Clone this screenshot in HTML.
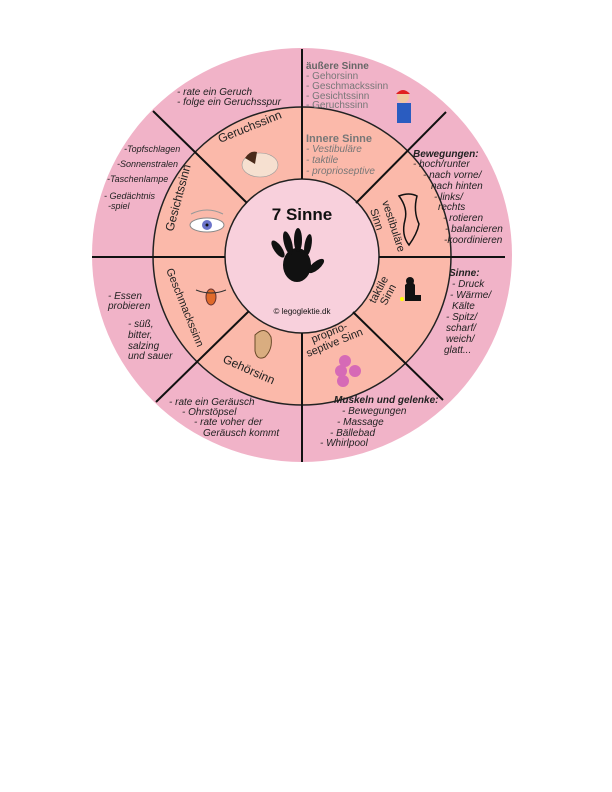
<!DOCTYPE html>
<html><head><meta charset="utf-8"><style>
html,body{margin:0;padding:0;background:#fff;}
svg{display:block;}
text{font-family:"Liberation Sans","DejaVu Sans",sans-serif;}
.i{font-style:italic;font-size:10px;fill:#222;}
.g{font-size:10px;fill:#777;}
</style></head><body>
<svg width="612" height="792" viewBox="0 0 612 792" xmlns="http://www.w3.org/2000/svg">
<ellipse cx="302" cy="255" rx="210" ry="207" fill="#f1b3c8"/>
<circle cx="302" cy="256" r="149" fill="#fbb9aa" stroke="#222" stroke-width="1.5"/>
<circle cx="302" cy="256" r="77" fill="#f8d0dc" stroke="#222" stroke-width="1.5"/>
<g stroke="#111" stroke-width="2">
<line x1="302" y1="49" x2="302" y2="179"/>
<line x1="302" y1="333" x2="302" y2="462"/>
<line x1="92" y1="257" x2="225" y2="257"/>
<line x1="379" y1="257" x2="505" y2="257"/>
<line x1="153" y1="111" x2="247" y2="203"/>
<line x1="446" y1="112" x2="356" y2="203"/>
<line x1="353" y1="312" x2="443" y2="400"/>
<line x1="156" y1="402" x2="249" y2="311"/>
</g>
<text x="302" y="220" text-anchor="middle" font-size="17" font-weight="bold" fill="#111">7 Sinne</text>
<g fill="#111">
<ellipse cx="297" cy="265" rx="14" ry="17"/>
<ellipse cx="278" cy="249" rx="4" ry="10" transform="rotate(-35 278 249)"/>
<ellipse cx="288" cy="243" rx="4" ry="12" transform="rotate(-15 288 243)"/>
<ellipse cx="298" cy="240" rx="4" ry="12"/>
<ellipse cx="308" cy="245" rx="3.5" ry="11" transform="rotate(10 308 245)"/>
<ellipse cx="316" cy="266" rx="4" ry="10" transform="rotate(50 316 266)"/>
</g>
<text x="302" y="314" text-anchor="middle" font-size="8" fill="#111">© legoglektie.dk</text>
<text font-size="12" fill="#222" transform="translate(220,143) rotate(-22)">Geruchssinn</text>
<text font-size="12" fill="#222" transform="translate(222,362) rotate(24)">Gehörsinn</text>
<text font-size="12" fill="#222" transform="translate(173,232) rotate(-75)">Gesichtssinn</text>
<text font-size="11" fill="#222" transform="translate(166,270) rotate(68)">Geschmackssinn</text>
<text font-size="11" fill="#222" transform="translate(382,202) rotate(72)">vestibuläre</text>
<text font-size="11" fill="#222" transform="translate(370,210) rotate(72)">Sinn</text>
<text font-size="11" fill="#222" transform="translate(375,304) rotate(-62)">taktile</text>
<text font-size="11" fill="#222" transform="translate(386,306) rotate(-62)">Sinn</text>
<text font-size="11" fill="#222" transform="translate(313,343) rotate(-22)">proprio-</text>
<text font-size="11" fill="#222" transform="translate(308,357) rotate(-22)">septive Sinn</text>
<ellipse cx="260" cy="165" rx="18" ry="12" fill="#f6e0d0" stroke="#999" stroke-width="0.6"/>
<path d="M245 158 q5 -8 12 -6 l-2 12z" fill="#4a2a1a"/>
<ellipse cx="207" cy="225" rx="17" ry="7" fill="#fff" stroke="#888"/>
<circle cx="207" cy="225" r="5" fill="#6b73c9"/><circle cx="207" cy="225" r="1.5" fill="#111"/>
<path d="M191 214 q16 -8 32 0" fill="none" stroke="#999"/>
<ellipse cx="211" cy="297" rx="5" ry="8" fill="#e06a2a" stroke="#633"/>
<path d="M196 290 q15 6 30 0" fill="none" stroke="#333"/>
<path d="M255 335 q10 -10 16 2 q2 12 -6 20 q-8 4 -10 -6z" fill="#d9ad80" stroke="#6a4a2a"/>
<path d="M409 245 q-8 -10 -4 -25 q3 -12 -6 -24 q10 -4 18 0 q-4 15 2 28 q-2 10 -10 21z" fill="none" stroke="#111" stroke-width="1.5"/>
<path d="M405 285 q6 -6 10 0 v10 h6 v6 h-16z" fill="#111"/><circle cx="410" cy="281" r="4" fill="#111"/>
<circle cx="402" cy="299" r="2" fill="#ff0"/>
<g fill="#d66ab6"><circle cx="345" cy="361" r="6"/><circle cx="341" cy="371" r="6"/><circle cx="355" cy="371" r="6"/><circle cx="343" cy="381" r="6"/></g>
<rect x="397" y="103" width="14" height="20" fill="#2a5cc0"/><circle cx="403" cy="97" r="6" fill="#f0c8a0"/><path d="M396 94 q7 -8 14 0z" fill="#e02020"/>
<text x="306" y="69" font-size="10" font-weight="bold" fill="#666">äußere Sinne</text>
<text class="g" x="306" y="79">- Gehorsinn</text>
<text class="g" x="306" y="89">- Geschmackssinn</text>
<text class="g" x="306" y="99">- Gesichtssinn</text>
<text class="g" x="306" y="108">- Geruchssinn</text>
<text x="306" y="142" font-size="11" font-weight="bold" fill="#777">Innere Sinne</text>
<text class="g" x="306" y="152" font-style="italic">- Vestibuläre</text>
<text class="g" x="306" y="163" font-style="italic">- taktile</text>
<text class="g" x="306" y="174" font-style="italic">- proprioseptive</text>
<g class="i" font-size="9.5">
<text x="413" y="157" font-weight="bold">Bewegungen:</text>
<text x="413" y="167">- hoch/runter</text>
<text x="423" y="178">- nach vorne/</text>
<text x="431" y="189">nach hinten</text>
<text x="434" y="200">- links/</text>
<text x="438" y="210">rechts</text>
<text x="443" y="221">- rotieren</text>
<text x="445" y="232">- balancieren</text>
<text x="444" y="243">-koordinieren</text>
<text x="449" y="276" font-weight="bold">Sinne:</text>
<text x="452" y="287">- Druck</text>
<text x="450" y="298">- Wärme/</text>
<text x="452" y="309">Kälte</text>
<text x="446" y="320">- Spitz/</text>
<text x="446" y="331">scharf/</text>
<text x="446" y="342">weich/</text>
<text x="444" y="353">glatt...</text>
<text x="334" y="403" font-weight="bold">Muskeln und gelenke:</text>
<text x="342" y="414">- Bewegungen</text>
<text x="337" y="425">- Massage</text>
<text x="330" y="436">- Bällebad</text>
<text x="320" y="446">- Whirlpool</text>
<text x="169" y="405" font-size="10">- rate ein Geräusch</text>
<text x="182" y="415" font-size="10">- Ohrstöpsel</text>
<text x="194" y="425" font-size="10">- rate voher der</text>
<text x="203" y="436" font-size="10">Geräusch kommt</text>
<text x="108" y="299" font-size="10">- Essen</text>
<text x="108" y="309" font-size="10">probieren</text>
<text x="128" y="327" font-size="10">- süß,</text>
<text x="128" y="338" font-size="10">bitter,</text>
<text x="128" y="349" font-size="10">salzing</text>
<text x="128" y="359" font-size="10">und sauer</text>
<text x="177" y="95" font-size="10">- rate ein Geruch</text>
<text x="177" y="105" font-size="10">-  folge ein Geruchsspur</text>
<text x="124" y="152" font-size="9">-Topfschlagen</text>
<text x="117" y="167" font-size="9">-Sonnenstralen</text>
<text x="107" y="182" font-size="9">-Taschenlampe</text>
<text x="104" y="199" font-size="9">- Gedächtnis</text>
<text x="108" y="209" font-size="9">-spiel</text>
</g>
</svg>
</body></html>
